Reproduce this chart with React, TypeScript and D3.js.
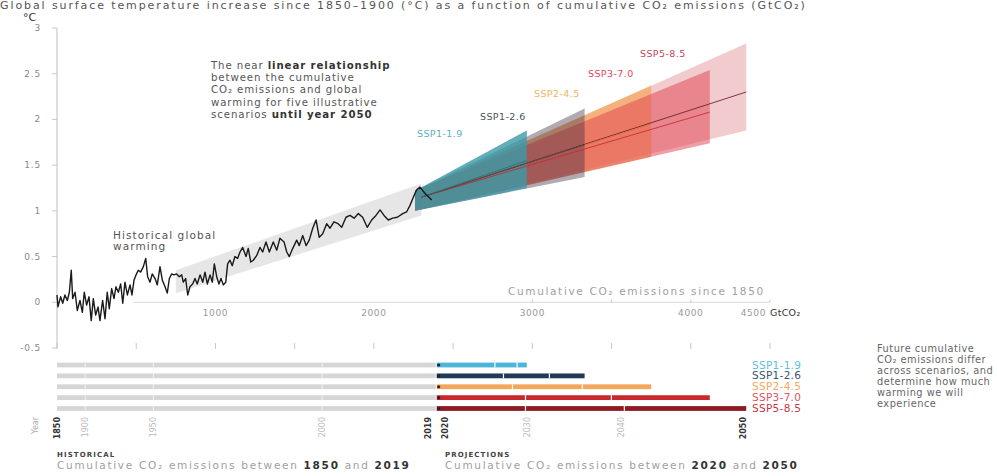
import React from 'react';
import * as d3 from 'd3';

// ---------- DATA ----------
const histG = [0, 6, 23, 36, 50, 65, 78, 90, 99, 114, 128, 145, 160, 172, 187, 202, 216, 229, 244, 259, 271, 288, 303, 317, 330, 345, 360, 372, 387, 402, 415, 429, 444, 461, 473, 486, 499, 513, 528, 545, 560, 572, 587, 601, 619, 633, 650, 665, 682, 696, 709, 724, 738, 755, 772, 787, 797, 812, 825, 839, 856, 871, 885, 903, 920, 934, 949, 966, 980, 993, 1008, 1022, 1035, 1050, 1065, 1077, 1092, 1106, 1123, 1140, 1155, 1172, 1193, 1207, 1223, 1239, 1260, 1281, 1298, 1319, 1340, 1365, 1387, 1407, 1433, 1450, 1466, 1488, 1513, 1529, 1551, 1572, 1592, 1614, 1635, 1655, 1677, 1702, 1723, 1748, 1774, 1797, 1824, 1849, 1875, 1902, 1929, 1958, 1986, 2013, 2039, 2064, 2091, 2119, 2148, 2182, 2207, 2228, 2249, 2270, 2291, 2323, 2365];
const histT = [0.08, -0.05, 0.06, -0.01, 0.08, 0.02, 0.11, 0.35, 0.04, 0.11, -0.09, 0.02, -0.11, 0.11, -0.03, 0.06, -0.2, 0.04, -0.14, -0.05, -0.2, 0.02, -0.18, 0.11, -0.07, 0.15, 0.04, 0.17, 0.11, 0.2, -0.01, 0.22, 0.08, 0.19, 0.08, 0.24, 0.3, 0.35, 0.33, 0.39, 0.48, 0.28, 0.22, 0.31, 0.26, 0.19, 0.39, 0.24, 0.17, 0.1, 0.26, 0.31, 0.3, 0.31, 0.28, 0.3, 0.22, 0.26, 0.08, 0.17, 0.2, 0.26, 0.2, 0.3, 0.22, 0.33, 0.2, 0.3, 0.22, 0.42, 0.28, 0.2, 0.26, 0.19, 0.22, 0.42, 0.46, 0.4, 0.5, 0.48, 0.55, 0.6, 0.5, 0.59, 0.44, 0.46, 0.51, 0.6, 0.55, 0.66, 0.55, 0.66, 0.57, 0.7, 0.66, 0.55, 0.5, 0.59, 0.68, 0.62, 0.73, 0.62, 0.68, 0.81, 0.9, 0.71, 0.75, 0.86, 0.81, 0.88, 0.86, 0.82, 0.93, 0.95, 0.92, 0.97, 0.93, 0.82, 0.9, 0.95, 1.01, 0.95, 0.9, 0.92, 0.93, 0.97, 0.99, 1.06, 1.15, 1.23, 1.26, 1.19, 1.12];

// grey band around the historical relationship
const bandG = [750, 2300];
const bandLow = [0.1, 0.95];
const bandHigh = [0.35, 1.3];

const scenarios = ['SSP1-1.9', 'SSP1-2.6', 'SSP2-4.5', 'SSP3-7.0', 'SSP5-8.5'];
const fanStartG = 2260;
const fanStartLow = 1.0;
const fanStartHigh = 1.22;
const medianStartG = 2300;
const medianStartT = 1.15;
const scenEndG = [2965, 3330, 3750, 4120, 4350];
const scenLow = [1.25, 1.37, 1.59, 1.74, 1.88];
const scenHigh = [1.88, 2.12, 2.37, 2.54, 2.83];
const scenMedian = [1.55, 1.72, 1.95, 2.08, 2.3];
const scen2030G = [2760, 2814, 2871, 2953, 2953];
const scen2040G = [2900, 3104, 3312, 3495, 3577];
const histEndG = 2390;
const histDecadeG = [175, 605, 1670];

const yTicks = [-0.5, 0, 0.5, 1, 1.5, 2, 2.5, 3];
const yTickLabels = ['-0.5', '0', '0.5', '1', '1.5', '2', '2.5', '3'];
const xLabelTicks = [1000, 2000, 3000, 4000];
const xMinorTicks = [0, 500, 1000, 1500, 2000, 2500, 3000, 3500, 4000, 4500];
const zeroLineTicks = [3000, 3500, 4000, 4500];

const yearLabels = ['1850', '1900', '1950', '2000', '2019', '2020', '2030', '2040', '2050'];
const yearG = [0, 175, 605, 1670, 2340, 2450, 2965, 3560, 4330];
const yearBold = [true, false, false, false, true, true, false, false, true];

const rightNote = ['Future cumulative', 'CO₂ emissions differ', 'across scenarios, and', 'determine how much', 'warming we will', 'experience'];

// ---------- STYLE ----------
const fanFill = ['#3a9aa8', '#3a2a40', '#f5a04a', '#e0404c', '#e8a0a6'];
const fanOpacity = [0.8, 0.4, 0.6, 0.5, 0.55];
const fanOrder = [4, 2, 3, 1, 0];
const medianColor = ['#2b6f7a', '#3a3f50', '#d9773a', '#c82a35', '#6e1c26'];
const barColor = ['#4ab6d8', '#1f3b57', '#f4a75a', '#c8282e', '#8c1b22'];
const fanLabelColor = ['#5ab0c0', '#4a5460', '#f2b25e', '#e0485a', '#c0485a'];
const rightLabelColor = ['#5bbfe0', '#3a5670', '#f4a860', '#e05560', '#c03a45'];

const FONT = "'DejaVu Sans', 'Open Sans', sans-serif";

export default function App() {
  const W = 997, H = 476;
  const x = d3.scaleLinear().domain([0, 4500]).range([57, 770]);
  const y = d3.scaleLinear().domain([-0.5, 3]).range([348, 28]);
  const row = d3.scalePoint<string>().domain(scenarios).range([365, 408.5]);

  const line = d3.line<[number, number]>().x(d => x(d[0])).y(d => y(d[1]));
  const histPts: [number, number][] = histG.map((g, i) => [g, histT[i]]);

  const area = d3.area<[number, number, number]>()
    .x(d => x(d[0])).y0(d => y(d[1])).y1(d => y(d[2]));

  const band: [number, number, number][] = bandG.map((g, i) => [g, bandLow[i], bandHigh[i]]);
  const barH = 4.8;

  return (
    <svg width={W} height={H} style={{ position: 'absolute', left: 0, top: 0, background: '#fff' }} fontFamily={FONT}>
      {/* title (cut in the reference) */}
      <text x={0} y={9} fontSize={11} fill="#555" letterSpacing={1.9}>
        Global surface temperature increase since 1850–1900 (°C) as a function of cumulative CO₂ emissions (GtCO₂)
      </text>

      {/* y axis */}
      <text x={23} y={21} fontSize={11} fill="#333">°C</text>
      <line x1={57} x2={57} y1={y(3)} y2={y(-0.5)} stroke="#d4d4d4" strokeWidth={1.5} />
      {yTicks.map((t, i) => (
        <g key={'yt' + i}>
          <line x1={52} x2={57} y1={y(t)} y2={y(t)} stroke="#c8c8c8" strokeWidth={1} />
          <text x={41} y={y(t) + 3} fontSize={9} fill="#8a8a8a" textAnchor="end" letterSpacing={0.8}>{yTickLabels[i]}</text>
        </g>
      ))}

      {/* bottom minor ticks */}
      {xMinorTicks.map((g, i) => (
        <line key={'xm' + i} x1={x(g)} x2={x(g)} y1={343} y2={349} stroke="#c8c8c8" strokeWidth={1} />
      ))}

      {/* zero line */}
      <line x1={x(480)} x2={x(4500)} y1={y(0)} y2={y(0)} stroke="#d8d8d8" strokeWidth={1} />
      {zeroLineTicks.map((g, i) => (
        <line key={'zt' + i} x1={x(g)} x2={x(g)} y1={y(0) - 3} y2={y(0)} stroke="#d0d0d0" strokeWidth={1} />
      ))}
      {xLabelTicks.map((g, i) => (
        <text key={'xl' + i} x={x(g)} y={316} fontSize={9} fill="#999" textAnchor="middle" letterSpacing={0.6}>{g}</text>
      ))}
      <text x={766} y={316} fontSize={9} fill="#999" textAnchor="end" letterSpacing={0.6}>4500</text>
      <text x={770} y={316} fontSize={9.5} fill="#333" letterSpacing={0.3}>GtCO₂</text>

      {/* grey band */}
      <path d={area(band) || ''} fill="#e2e2e2" opacity={0.85} />

      {/* scenario fans */}
      {fanOrder.map(i => {
        const pts: [number, number, number][] = [
          [fanStartG, fanStartLow, fanStartHigh],
          [scenEndG[i], scenLow[i], scenHigh[i]],
        ];
        return <path key={'fan' + i} d={area(pts) || ''} fill={fanFill[i]} fillOpacity={fanOpacity[i]} />;
      })}
      {fanOrder.map(i => (
        <path key={'med' + i}
          d={line([[medianStartG, medianStartT], [scenEndG[i], scenMedian[i]]]) || ''}
          stroke={medianColor[i]} strokeWidth={1} fill="none" opacity={0.85} />
      ))}

      {/* historical line */}
      <path d={line(histPts) || ''} fill="none" stroke="#1a1a1a" strokeWidth={1.4} strokeLinejoin="round" />

      {/* annotations */}
      <g fontSize={10.5} fill="#555" letterSpacing={1.1}>
        <text x={113} y={239}>Historical global</text>
        <text x={113} y={250}>warming</text>
      </g>

      <g fontSize={10.2} fill="#555" letterSpacing={0.9}>
        <text x={211} y={69}>The near <tspan fontWeight="bold" fill="#333">linear relationship</tspan></text>
        <text x={211} y={81}>between the cumulative</text>
        <text x={211} y={93}>CO₂ emissions and global</text>
        <text x={211} y={106}>warming for five illustrative</text>
        <text x={211} y={118}>scenarios <tspan fontWeight="bold" fill="#333">until year 2050</tspan></text>
      </g>

      {/* fan labels */}
      {scenarios.map((s, i) => {
        const lx = [417, 480, 534, 588, 640][i];
        const ly = [137, 120, 97, 77, 57][i];
        return <text key={'fl' + i} x={lx} y={ly} fontSize={9.5} fill={fanLabelColor[i]} letterSpacing={0.4}>{s}</text>;
      })}

      <text x={508} y={295} fontSize={10.5} fill="#a0a0a0" letterSpacing={1.65}>Cumulative CO₂ emissions since 1850</text>

      {/* bars */}
      {scenarios.map((s, i) => {
        const cy = row(s) as number;
        return (
          <g key={'bar' + i}>
            <rect x={x(0)} y={cy - barH / 2} width={x(histEndG) - x(0)} height={barH} fill="#d6d6d6" />
            {histDecadeG.map((g, j) => (
              <rect key={'hd' + j} x={x(g)} y={cy - barH / 2} width={1} height={barH} fill="#f2f2f2" />
            ))}
            <rect x={x(histEndG) + 1} y={cy - barH / 2} width={x(scenEndG[i]) - x(histEndG) - 1} height={barH} fill={barColor[i]} />
            <rect x={x(scen2030G[i])} y={cy - barH / 2} width={1.2} height={barH} fill="#fff" />
            <rect x={x(scen2040G[i])} y={cy - barH / 2} width={1.2} height={barH} fill="#fff" />
            <circle cx={x(histEndG) + 3} cy={cy} r={1.6} fill="#222" />
            <text x={752} y={cy + 3.5} fontSize={10.5} fill={rightLabelColor[i]} letterSpacing={0.3}>{s}</text>
          </g>
        );
      })}

      {/* year labels */}
      <text transform={`translate(38,417) rotate(-90)`} fontSize={8} fill="#aaa" textAnchor="end">Year</text>
      {yearLabels.map((lab, i) => (
        <text key={'yl' + i} transform={`translate(${x(yearG[i]) + 3},417) rotate(-90)`}
          fontSize={8} fontWeight={yearBold[i] ? 'bold' : 'normal'}
          fill={yearBold[i] ? '#333' : '#bbb'} textAnchor="end">{lab}</text>
      ))}

      {/* right note */}
      {rightNote.map((t, i) => (
        <text key={'rn' + i} x={877} y={352 + i * 11} fontSize={9.8} fill="#666" letterSpacing={0.5}>{t}</text>
      ))}

      {/* bottom captions */}
      <text x={57} y={457} fontSize={7} fontWeight="bold" fill="#444" letterSpacing={1.1}>HISTORICAL</text>
      <text x={57} y={469} fontSize={10.5} fill="#a0a0a0" letterSpacing={1.7}>Cumulative CO₂ emissions between <tspan fontWeight="bold" fill="#333">1850</tspan> and <tspan fontWeight="bold" fill="#333">2019</tspan></text>
      <text x={445} y={457} fontSize={7} fontWeight="bold" fill="#444" letterSpacing={1.1}>PROJECTIONS</text>
      <text x={445} y={469} fontSize={10.5} fill="#a0a0a0" letterSpacing={1.7}>Cumulative CO₂ emissions between <tspan fontWeight="bold" fill="#333">2020</tspan> and <tspan fontWeight="bold" fill="#333">2050</tspan></text>
    </svg>
  );
}
